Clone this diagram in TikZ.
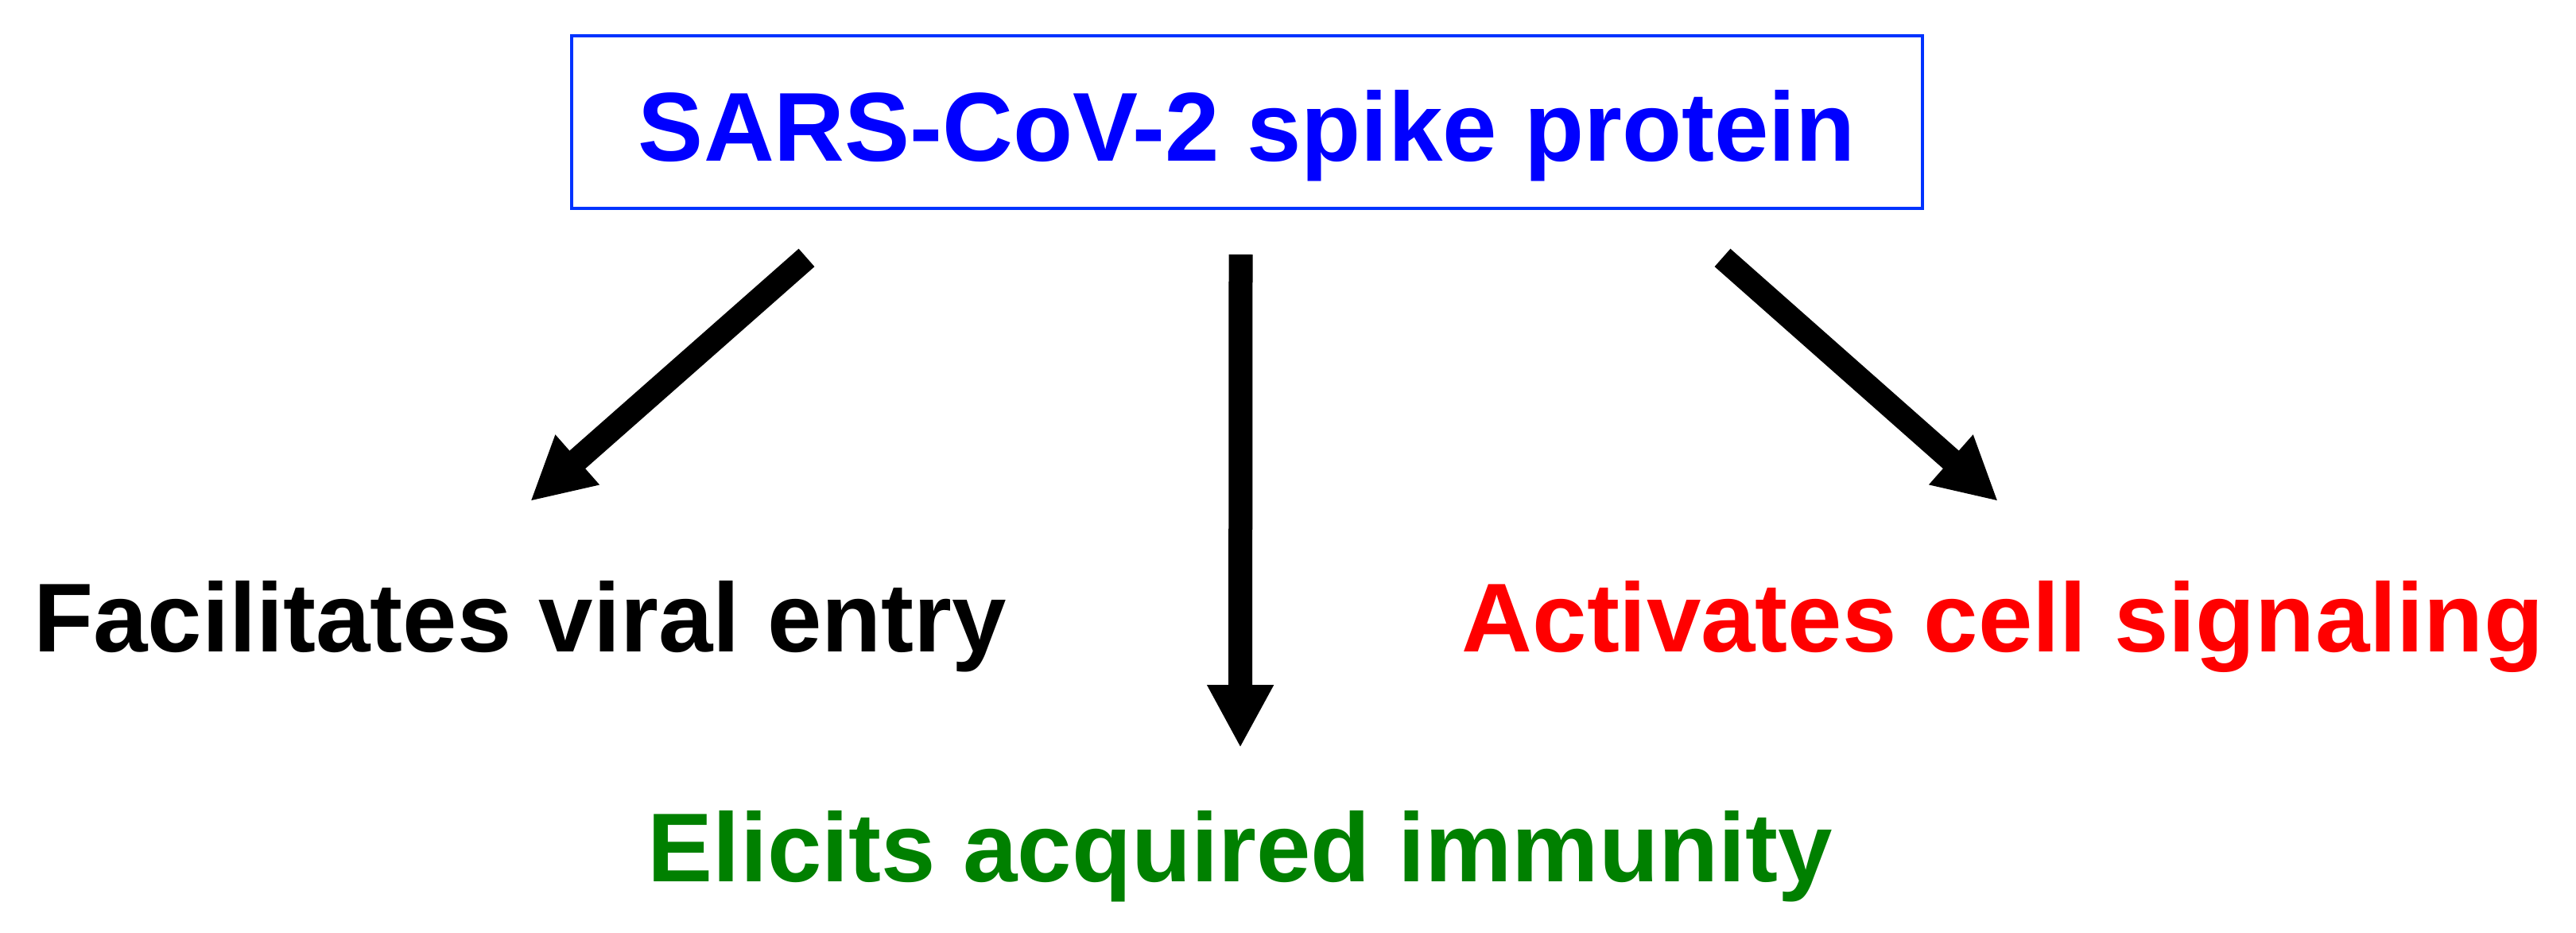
\documentclass[tikz,border=0pt]{standalone}
\usepackage{fontspec}
\setmainfont{Liberation Sans}
\usetikzlibrary{arrows.meta, positioning}
\definecolor{spike-blue}{RGB}{0,0,255}
\definecolor{spike-frame}{RGB}{0,51,255}
\definecolor{immune-green}{RGB}{0,128,0}
\definecolor{signal-red}{RGB}{255,0,0}

\begin{document}
\begin{tikzpicture}[
    font=\fontsize{35}{42}\selectfont\bfseries,
    effect/.style={inner sep=0pt, anchor=base},
    spikearrow/.style={line width=0.3cm, -{Triangle[width=0.78cm, length=0.79cm]}}
]
    \useasboundingbox (0, 0) rectangle (32.4, 11.72);

    % ===== Spike protein box =====
    \node[draw=spike-frame, line width=0.04cm, text=spike-blue,
          minimum width=16.99cm, minimum height=2.17cm,
          text height=0.99cm, text depth=0pt] (spike) at (15.685, 10.185) {SARS-CoV-2 spike protein};

    % ===== Effects =====
    \node[effect] (entry) at (6.54, 3.52) {Facilitates viral entry};
    \node[effect, text=immune-green] (immunity) at (15.60, 0.64) {Elicits acquired immunity};
    \node[effect, text=signal-red] (signaling) at (25.19, 3.52) {Activates cell signaling};

    % ===== Arrows =====
    \draw[spikearrow] ([xshift=-5.54cm, yshift=-0.6cm]spike.south) -- ([xshift=0.13cm, yshift=1.0cm]entry.north);
    \draw[spikearrow] ([xshift=-0.08cm, yshift=-0.56cm]spike.south) -- ([yshift=0.78cm]immunity.north);
    \draw[spikearrow] ([xshift=5.98cm, yshift=-0.6cm]spike.south) -- ([xshift=-0.06cm, yshift=1.0cm]signaling.north);

\end{tikzpicture}
\end{document}
